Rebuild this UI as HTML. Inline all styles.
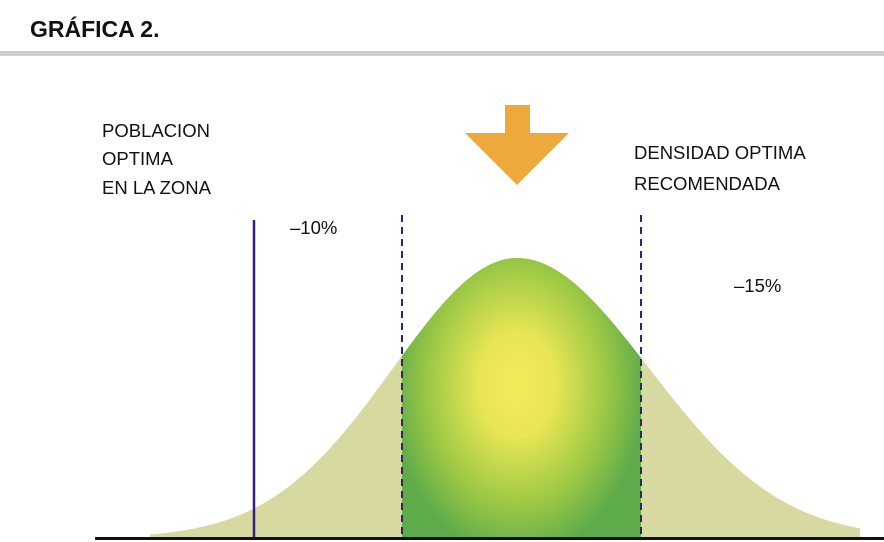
<!DOCTYPE html>
<html><head><meta charset="utf-8"><style>
body{margin:0;background:#fff;}
svg{display:block}
</style></head><body>
<svg id="s" width="884" height="542" xmlns="http://www.w3.org/2000/svg">
<defs>
<radialGradient id="g" cx="517" cy="385" r="150" gradientUnits="userSpaceOnUse" gradientTransform="translate(517 385) scale(0.85 1.15) translate(-517 -385)">
<stop offset="0" stop-color="#f2ec5a"/>
<stop offset="0.3" stop-color="#e8e655"/>
<stop offset="0.7" stop-color="#9cc845"/>
<stop offset="1" stop-color="#5eab4a"/>
</radialGradient>
<clipPath id="c"><rect x="402" y="0" width="239" height="538"/></clipPath>
</defs>
<text x="30" y="37" font-family="Liberation Sans Narrow, Liberation Sans, sans-serif" font-weight="bold" font-size="23" fill="#111">GRÁFICA 2.</text>
<rect x="0" y="51" width="884" height="5" fill="#cfcfcf"/>
<path id="bell" fill="#d7d9a0"/>
<path id="bell2" fill="url(#g)" clip-path="url(#c)"/>
<line x1="254" y1="220" x2="254" y2="538" stroke="#3a1f7a" stroke-width="2.5"/>
<line x1="402" y1="215" x2="402" y2="538" stroke="#3a1f7a" stroke-width="2" stroke-dasharray="7,5"/>
<line x1="641" y1="215" x2="641" y2="538" stroke="#3a1f7a" stroke-width="2" stroke-dasharray="7,5"/>
<rect x="95" y="537" width="789" height="3" fill="#111"/>
<rect x="505" y="105" width="25" height="30" fill="#eda93c"/>
<polygon points="465,133 569,133 517,185" fill="#eda93c"/>
<g font-family="Liberation Sans, sans-serif" font-size="18.5" fill="#111">
<text x="102" y="137">POBLACION</text>
<text x="102" y="165">OPTIMA</text>
<text x="102" y="194">EN LA ZONA</text>
<text x="634" y="159">DENSIDAD OPTIMA</text>
<text x="634" y="190">RECOMENDADA</text>
<text x="290" y="234">–10%</text>
<text x="734" y="292">–15%</text>
</g>
</svg>
<script>
var d="M150,538";
for(var x=150;x<=860;x+=2){var dx=x-517;var s=dx<0?124:132;var y=538-280*Math.exp(-dx*dx/(2*s*s));d+=" L"+x+","+y.toFixed(1);}
d+=" L860,538 Z";
document.getElementById('bell').setAttribute('d',d);
document.getElementById('bell2').setAttribute('d',d);
</script>
</body></html>
